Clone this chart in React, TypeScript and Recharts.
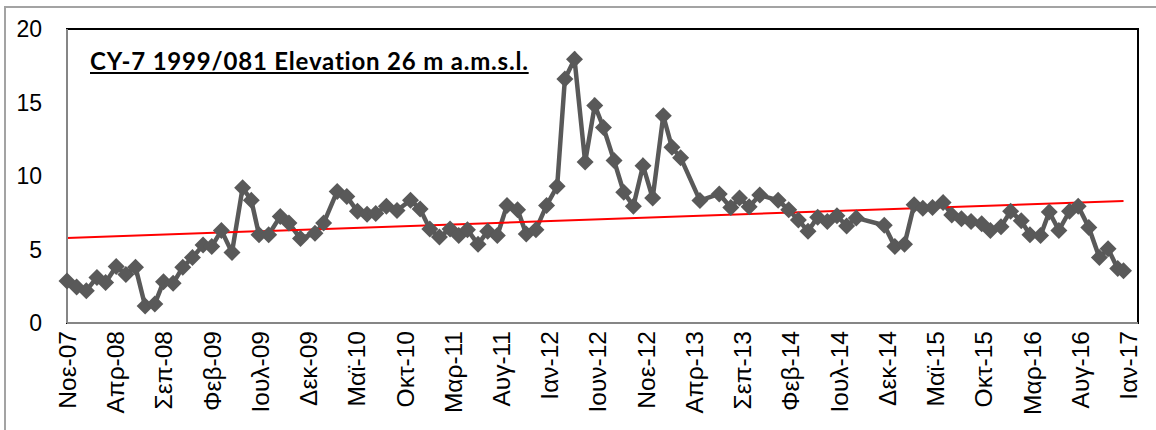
import React from 'react';
import { LineChart, Line, XAxis, YAxis, ReferenceArea } from 'recharts';

// months counted from Nov 2007 (Νοε-07 = 0), water level in m
const months = [
  0, 1.0, 2.0, 3.1, 4.0, 5.1, 6.1, 7.1, 8.1, 9.1,
  10.0, 11.0, 12.0, 13.0, 14.1, 15.0, 16.0, 17.1, 18.2, 19.1,
  19.9, 20.9, 22.1, 23.0, 24.2, 25.7, 26.6, 28.0, 29.0, 30.1,
  31.1, 32.0, 33.1, 34.2, 35.6, 36.6, 37.6, 38.6, 39.7, 40.6,
  41.5, 42.6, 43.6, 44.6, 45.6, 46.7, 47.6, 48.6, 49.7, 50.8,
  51.6, 52.6, 53.7, 54.7, 55.6, 56.7, 57.7, 58.7, 59.7, 60.7,
  61.8, 62.7, 63.6, 65.6, 67.6, 68.8, 69.7, 70.7, 71.8, 73.7,
  74.8, 75.8, 76.8, 77.8, 78.8, 79.8, 80.8, 81.8, 84.7, 85.8,
  86.8, 87.8, 88.7, 89.7, 90.8, 91.7, 92.7, 93.7, 94.8, 95.7,
  96.8, 97.8, 98.9, 99.8, 100.9, 101.8, 102.8, 103.9, 104.8, 105.9,
  107.0, 107.9, 108.9, 109.5,
];

const levels = [
  2.85, 2.45, 2.2, 3.1, 2.75, 3.85, 3.3, 3.8, 1.15, 1.3,
  2.8, 2.7, 3.8, 4.45, 5.3, 5.2, 6.3, 4.8, 9.2, 8.35,
  6.0, 6.0, 7.25, 6.8, 5.75, 6.1, 6.8, 8.95, 8.6, 7.6,
  7.4, 7.45, 7.95, 7.65, 8.35, 7.75, 6.4, 5.85, 6.4, 5.95,
  6.35, 5.35, 6.25, 5.95, 8.0, 7.7, 6.05, 6.35, 8.0, 9.3,
  16.6, 17.95, 10.95, 14.8, 13.3, 11.05, 8.9, 7.95, 10.7, 8.5,
  14.1, 11.95, 11.25, 8.33, 8.78, 7.85, 8.5, 7.9, 8.7, 8.35,
  7.7, 7.0, 6.25, 7.2, 6.9, 7.3, 6.6, 7.15, 6.65, 5.2,
  5.35, 8.05, 7.8, 7.85, 8.2, 7.35, 7.1, 6.9, 6.75, 6.3,
  6.55, 7.6, 6.95, 6.0, 5.95, 7.55, 6.3, 7.6, 7.95, 6.5,
  4.45, 5.05, 3.7, 3.55,
];

const tickMonths = [0, 5, 10, 15, 20, 25, 30, 35, 40, 45, 50, 55, 60, 65, 70, 75, 80, 85, 90, 95, 100, 105, 110];
const tickLabels = [
  'Νοε-07', 'Απρ-08', 'Σεπ-08', 'Φεβ-09', 'Ιουλ-09', 'Δεκ-09', 'Μαϊ-10', 'Οκτ-10',
  'Μαρ-11', 'Αυγ-11', 'Ιαν-12', 'Ιουν-12', 'Νοε-12', 'Απρ-13', 'Σεπ-13', 'Φεβ-14',
  'Ιουλ-14', 'Δεκ-14', 'Μαϊ-15', 'Οκτ-15', 'Μαρ-16', 'Αυγ-16', 'Ιαν-17',
];
const yTicks = [0, 5, 10, 15, 20];

const series = months.map((m, i) => ({ m, v: levels[i] }));

// least squares trend line over the series
const n = series.length;
const mx = months.reduce((a, b) => a + b, 0) / n;
const my = levels.reduce((a, b) => a + b, 0) / n;
const slope =
  series.reduce((a, p) => a + (p.m - mx) * (p.v - my), 0) /
  series.reduce((a, p) => a + (p.m - mx) * (p.m - mx), 0);
const intercept = my - slope * mx;
const trend = [months[0], months[n - 1]].map((m) => ({ m, t: intercept + slope * m }));

const tickFont = '"Liberation Sans", Arial, sans-serif';

const Diamond = (props: any) => {
  const { cx, cy, index } = props;
  const r = 8.5;
  return (
    <polygon
      key={`d-${index}`}
      points={`${cx},${cy - r} ${cx + r},${cy} ${cx},${cy + r} ${cx - r},${cy}`}
      fill="#595959"
    />
  );
};

const MonthTick = (props: any) => {
  const { x, y, payload } = props;
  const idx = tickMonths.indexOf(payload.value);
  return (
    <text
      x={x}
      y={y}
      transform={`rotate(-90, ${x}, ${y})`}
      textAnchor="end"
      dy="0.36em"
      fontSize={24.5}
      fontFamily={tickFont}
      fill="#000"
    >
      {tickLabels[idx]}
    </text>
  );
};

export default function App() {
  return (
    <div style={{ position: 'absolute', left: 0, top: 0, width: 1156, height: 430, overflow: 'hidden', background: '#fff' }}>
      <div
        style={{
          position: 'absolute',
          left: 4,
          top: 6,
          width: 1200,
          height: 500,
          borderLeft: '2px solid #a3a3a3',
          borderTop: '2px solid #a3a3a3',
        }}
      />
      <LineChart width={1156} height={430} margin={{ top: 29, right: 18, bottom: 7, left: 0 }}>
        <ReferenceArea x1={0} x2={111} y1={0} y2={20} fill="none" stroke="#000" strokeWidth={2} ifOverflow="visible" />
        <XAxis
          type="number"
          dataKey="m"
          domain={[0, 111]}
          ticks={tickMonths}
          interval={0}
          height={100}
          tickLine={false}
          tickMargin={2}
          axisLine={{ stroke: '#868686', strokeWidth: 2 }}
          tick={<MonthTick />}
          allowDuplicatedCategory={false}
        />
        <YAxis
          type="number"
          domain={[0, 20]}
          ticks={yTicks}
          width={67}
          tickLine={false}
          tickMargin={19}
          axisLine={{ stroke: '#868686', strokeWidth: 2 }}
          tick={{ fontSize: 23, fontFamily: tickFont, fill: '#000' }}
        />
        <Line
          data={series}
          dataKey="v"
          stroke="#595959"
          strokeWidth={4.5}
          dot={<Diamond />}
          activeDot={false}
          isAnimationActive={false}
        />
        <Line
          data={trend}
          dataKey="t"
          stroke="#ff0000"
          strokeWidth={2}
          dot={false}
          activeDot={false}
          isAnimationActive={false}
        />
      </LineChart>
      <div
        style={{
          position: 'absolute',
          left: 90,
          top: 49,
          fontFamily: 'Lato, sans-serif',
          fontWeight: 700,
          fontSize: 24,
          lineHeight: '24px',
          letterSpacing: '0.8px',
          textDecoration: 'underline',
          whiteSpace: 'nowrap',
          color: '#000',
        }}
      >
        CY-7 1999/081 Elevation 26 m a.m.s.l.
      </div>
    </div>
  );
}
